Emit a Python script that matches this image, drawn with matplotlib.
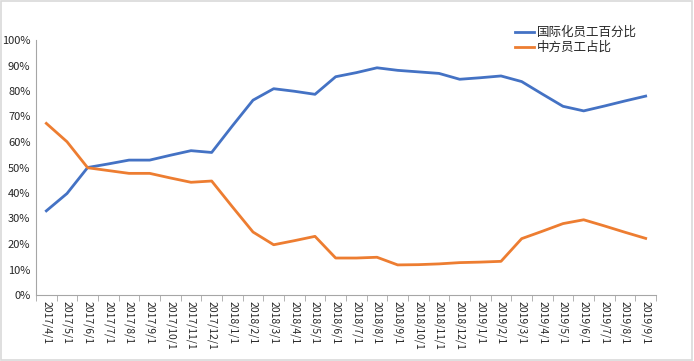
import matplotlib
matplotlib.use('Agg')
import matplotlib.pyplot as plt
import numpy as np
from matplotlib.ticker import FixedLocator, PercentFormatter
from matplotlib.patches import Rectangle

plt.rcParams['font.family'] = ['Noto Sans CJK SC', 'DejaVu Sans']

# monthly categories 2017/4/1 .. 2019/9/1
dates = ['2017/4/1', '2017/5/1', '2017/6/1', '2017/7/1', '2017/8/1', '2017/9/1',
         '2017/10/1', '2017/11/1', '2017/12/1', '2018/1/1', '2018/2/1', '2018/3/1',
         '2018/4/1', '2018/5/1', '2018/6/1', '2018/7/1', '2018/8/1', '2018/9/1',
         '2018/10/1', '2018/11/1', '2018/12/1', '2019/1/1', '2019/2/1', '2019/3/1',
         '2019/4/1', '2019/5/1', '2019/6/1', '2019/7/1', '2019/8/1', '2019/9/1']

# share of international staff (%)
intl_pct = [33.0, 39.8, 50.0, 51.4, 52.9, 52.9, 54.8, 56.6, 55.9, 66.3,
            76.4, 80.9, 79.9, 78.7, 85.6, 87.2, 89.1, 88.1, 87.5, 86.9,
            84.6, 85.2, 85.9, 83.7, 78.8, 74.0, 72.2, 74.1, 76.1, 78.0]

# share of Chinese staff (%)
cn_pct = [67.3, 60.1, 49.9, 48.8, 47.7, 47.7, 45.9, 44.2, 44.7, 34.6,
          24.7, 19.7, 21.3, 23.0, 14.5, 14.5, 14.8, 11.8, 11.9, 12.2,
          12.7, 12.9, 13.2, 22.1, 25.0, 28.0, 29.5, 27.1, 24.6, 22.2]

labels = ['国际化员工百分比', '中方员工占比']

fig = plt.figure(figsize=(6.94, 3.61), dpi=100)
ax = fig.add_axes([36 / 694, 66 / 361, 620 / 694, 255 / 361])

x = np.arange(len(dates))
ax.plot(x, intl_pct, color='#4472C4', lw=2, label=labels[0])
ax.plot(x, cn_pct, color='#ED7D31', lw=2, label=labels[1])

ax.set_xlim(-0.5, len(dates) - 0.5)
ax.set_ylim(0, 100)
ax.yaxis.set_major_locator(FixedLocator(np.arange(0, 101, 10)))
ax.yaxis.set_major_formatter(PercentFormatter(decimals=0))

ax.set_xticks(x)
ax.set_xticklabels(dates, rotation=270, fontsize=7.5, color='#262626')
ax.xaxis.set_minor_locator(FixedLocator(np.arange(-0.5, len(dates), 1)))
ax.tick_params(axis='x', which='major', length=0, pad=4)
ax.tick_params(axis='x', which='minor', length=4, color='#A6A6A6')
ax.tick_params(axis='y', length=0, labelsize=8, labelcolor='#262626', pad=4)

for side in ['top', 'right']:
    ax.spines[side].set_visible(False)
for side in ['left', 'bottom']:
    ax.spines[side].set_color('#A6A6A6')

leg = ax.legend(loc='upper left', bbox_to_anchor=(0.765, 1.074), frameon=False,
                fontsize=9, handlelength=1.5, handletextpad=0.25, labelspacing=0.15,
                borderaxespad=0)
for t in leg.get_texts():
    t.set_color('#262626')

fig.patches.append(Rectangle((0.002, 0.003), 0.995, 0.993, transform=fig.transFigure,
                             fill=False, edgecolor='#D9D9D9', lw=1.2))

fig.savefig('out.png', dpi=100)
